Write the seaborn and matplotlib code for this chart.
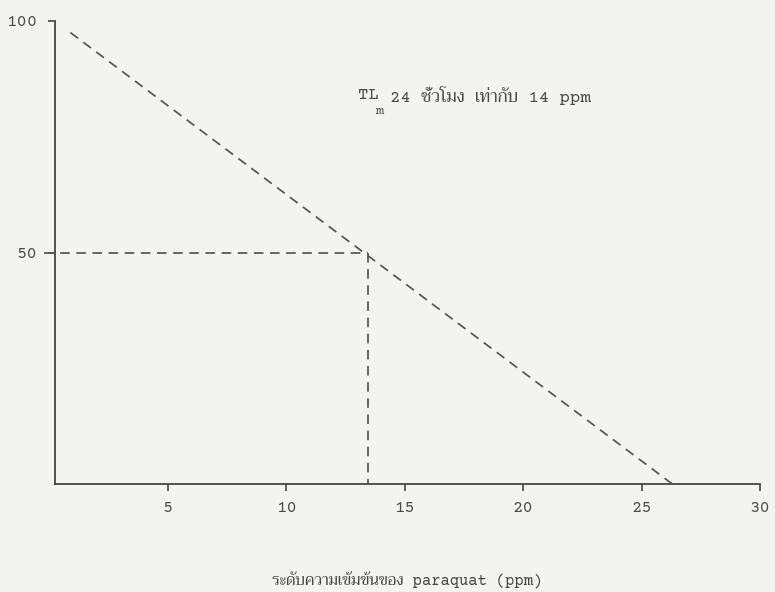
import matplotlib
matplotlib.use("Agg")
import matplotlib.pyplot as plt
import pandas as pd
import seaborn as sns

# Paraquat concentration (ppm) vs. survival (%), 24 h exposure
conc_ppm = [0.9, 26.3]
survival_pct = [97.5, 0.0]
tlm_conc = 13.45
tlm_level = 50

x_ticks = [5, 10, 15, 20, 25, 30]
y_ticks = [50, 100]

x_label = "ระดับความเข้มข้นของ paraquat (ppm)"
note_main = "TL"
note_sub = "m"
note_rest = "24 ชั่วโมง เท่ากับ 14 ppm"

sns.set_theme(style="ticks")
mono = ["Courier Prime", "Cutive Mono", "Liberation Mono", "Trirong", "DejaVu Sans"]
plt.rcParams["font.family"] = mono

paper = "#f3f3f1"
ink = "#555555"
dash = (0, (5.5, 3.8))

fig = plt.figure(figsize=(7.75, 5.92), dpi=100, facecolor=paper)
ax = fig.add_axes([55 / 775, (592 - 484) / 592, 705 / 775, 463 / 592])
ax.set_facecolor(paper)

df = pd.DataFrame({"conc": conc_ppm, "survival": survival_pct})
sns.lineplot(data=df, x="conc", y="survival", ax=ax, color=ink, lw=1.25,
             linestyle=dash, estimator=None, sort=False)

# TLm read-off: horizontal to the y axis, vertical down to the x axis
ax.plot([-0.2, tlm_conc], [tlm_level, tlm_level], color=ink, lw=1.25,
        linestyle=dash, clip_on=False)
ax.plot([tlm_conc, tlm_conc], [tlm_level, 0], color=ink, lw=1.25,
        linestyle=dash)

ax.set_xlim(0.25, 30)
ax.set_ylim(0, 100)
ax.set_xticks(x_ticks)
ax.set_yticks(y_ticks)
ax.set_xticklabels([str(v) for v in x_ticks])
ax.set_yticklabels([str(v) for v in y_ticks])

sns.despine(ax=ax)
for side in ("left", "bottom"):
    ax.spines[side].set_color("#444444")
    ax.spines[side].set_linewidth(1.3)
ax.tick_params(axis="both", colors="#444444", width=1.2, length=5,
               labelcolor="#4a4a4a", labelsize=12.5, pad=7)
ax.tick_params(axis="y", pad=8)

ax.set_xlabel(x_label, fontsize=11.2, color="#444444", labelpad=41)
ax.set_ylabel("")

# Annotation with subscript m
txt_kw = dict(fontsize=12.5, color="#4a4a4a", va="center", ha="left")
ax.text(13.05, 84.0, note_main, **txt_kw)
ax.text(13.75, 80.6, note_sub, **dict(txt_kw, fontsize=9.5))
ax.text(14.4, 84.0, note_rest, **txt_kw)

fig.savefig("out.png", dpi=100, facecolor=paper)
